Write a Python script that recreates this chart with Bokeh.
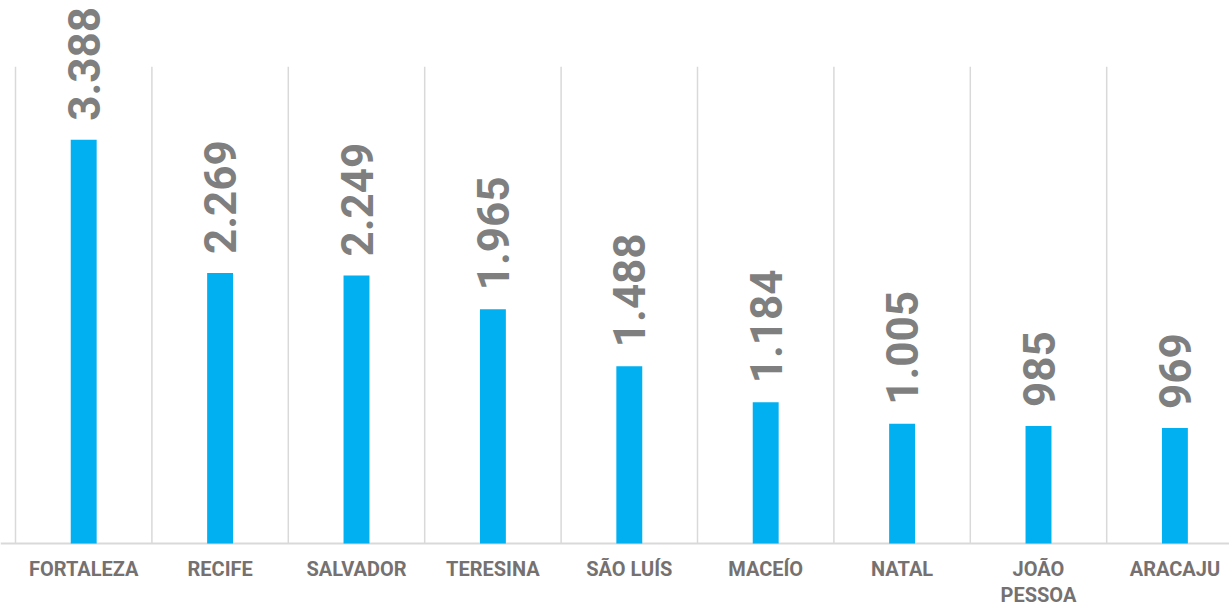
import math
from bokeh.plotting import figure
from bokeh.models import Range1d, ColumnDataSource
from bokeh.core.properties import value
from bokeh.embed import file_html
from bokeh.resources import INLINE

cities = ["FORTALEZA", "RECIFE", "SALVADOR", "TERESINA", "SÃO LUÍS",
          "MACEÍO", "NATAL", "JOÃO\nPESSOA", "ARACAJU"]
values = [3388, 2269, 2249, 1965, 1488, 1184, 1005, 985, 969]
value_labels = ["3.388", "2.269", "2.249", "1.965", "1.488", "1.184", "1.005", "985", "969"]

xs = list(range(len(cities)))
src = ColumnDataSource(dict(x=xs, top=values, lab=value_labels, city=cities))

px_per_cat = 136.4
px_per_unit = 0.1192
W, H = 1229, 605
left_px, base_px = 15, 543
x0 = -0.5 - left_px / px_per_cat
x1 = x0 + W / px_per_cat
y1 = base_px / px_per_unit
y0 = -(H - base_px) / px_per_unit

p = figure(width=W, height=H, output_backend="svg", toolbar_location=None,
           x_range=Range1d(x0, x1), y_range=Range1d(y0, y1),
           x_axis_location=None, y_axis_location=None,
           min_border=0, min_border_left=0, min_border_right=0,
           min_border_top=0, min_border_bottom=0)
p.outline_line_color = None
p.xgrid.visible = False
p.ygrid.visible = False

# vertical separators
bounds = [i - 0.5 for i in range(len(cities) + 1)]
p.segment(x0=bounds, y0=[0] * len(bounds), x1=bounds, y1=[4000] * len(bounds),
          line_color="#d9d9d9", line_width=1.5)
# baseline
p.segment(x0=[x0], y0=[0], x1=[x1], y1=[0], line_color="#d9d9d9", line_width=2)

p.vbar(x="x", top="top", bottom=0, width=0.19, source=src,
       fill_color="#00B0F0", line_color=None)

p.text(x="x", y="top", text="lab", source=src, angle=math.pi / 2,
       text_align="left", text_baseline="middle", y_offset=-19,
       text_font=value("Roboto"), text_font_style="bold",
       text_font_size="44px", text_color="#7f7f7f")

p.text(x="x", y=0, text="city", source=src, text_align="center",
       text_baseline="top", y_offset=13, text_line_height=1.1,
       text_font=value("Roboto"), text_font_style="bold",
       text_font_size="20px", text_color="#767171")

open("out.html", "w").write(file_html(p, INLINE))
